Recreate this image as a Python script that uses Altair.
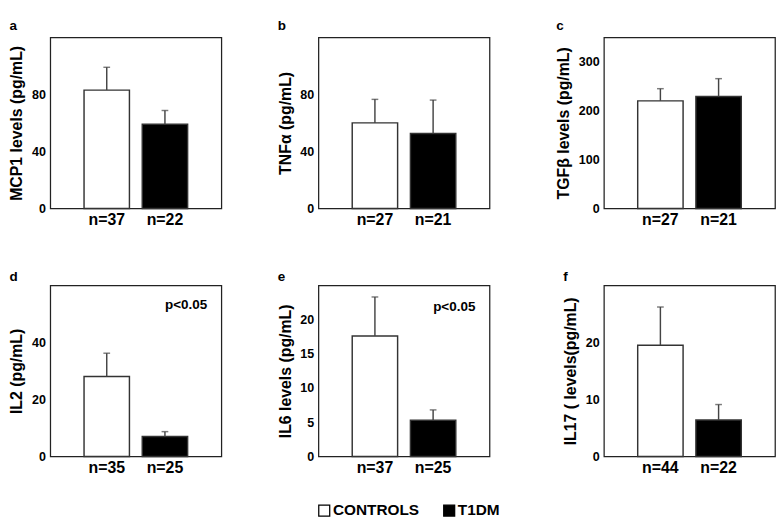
import altair as alt
import pandas as pd

letters = ["a", "b", "c", "d", "e", "f"]
y_titles = ["MCP1 levels (pg/mL)", "TNFα (pg/mL)", "TGFβ levels (pg/mL)",
            "IL2 (pg/mL)", "IL6 levels (pg/mL)", "IL17 ( levels(pg/mL)"]
groups = ["CONTROLS", "T1DM"]
control_mean = [83, 60, 220, 28, 17.6, 19.5]
control_upper = [99, 76.5, 245, 36.2, 23.3, 26.2]
t1dm_mean = [59, 52.5, 229, 7, 5.3, 6.4]
t1dm_upper = [68.7, 76, 265.5, 8.7, 6.8, 9.1]
n_control = [37, 27, 27, 35, 37, 44]
n_t1dm = [22, 21, 21, 25, 25, 22]
y_max = [120, 120, 350, 60, 25, 30]
y_ticks = [[0, 40, 80], [0, 40, 80], [0, 100, 200, 300],
           [0, 20, 40], [0, 5, 10, 15, 20], [0, 10, 20]]
p_text = ["", "", "", "p<0.05", "p<0.05", ""]
p_y = [0, 0, 0, 53, 21.8, 0]

FONT = "Liberation Sans"
W = 178
H = 178


def panel(i):
    labels = [f"n={n_control[i]}", f"n={n_t1dm[i]}"]
    df = pd.DataFrame({
        "label": labels,
        "group": groups,
        "mean": [control_mean[i], t1dm_mean[i]],
        "upper": [control_upper[i], t1dm_upper[i]],
    })
    xs = alt.X("label:N", sort=labels,
               scale=alt.Scale(paddingInner=0.22, paddingOuter=0.58),
               axis=alt.Axis(title=None, labelAngle=0, ticks=False, domain=False,
                             labelFontSize=16.5, labelFontWeight="bold",
                             labelPadding=4, labelColor="#000", labelFont=FONT))
    yaxis = alt.Axis(title=y_titles[i], values=y_ticks[i], grid=False, ticks=False,
                     domain=False, labelFontSize=13, labelFontWeight="bold",
                     labelColor="#000", labelFont=FONT, labelPadding=5,
                     titleFontSize=16.5, titleFontWeight="bold", titleColor="#000",
                     titleFont=FONT, titlePadding=7)
    yscale = alt.Scale(domain=[0, y_max[i]], nice=False, zero=True)

    if i == 4:
        leg = alt.Legend(orient="none", legendX=-2, legendY=226, direction="horizontal",
                         title=None, symbolType="square", symbolSize=130,
                         symbolStrokeColor="#000", symbolStrokeWidth=1.3,
                         labelFontSize=16, labelFontWeight="bold", labelFont=FONT,
                         labelColor="#000", labelOffset=1, columnPadding=22)
    else:
        leg = None

    bars = alt.Chart(df).mark_bar(stroke="#333", strokeWidth=1.5).encode(
        x=xs,
        y=alt.Y("mean:Q", scale=yscale, axis=yaxis),
        fill=alt.Fill("group:N", scale=alt.Scale(domain=groups, range=["#ffffff", "#000000"]),
                      legend=leg),
    )
    rule = alt.Chart(df).mark_rule(color="#444", strokeWidth=1.5).encode(
        x=alt.X("label:N", sort=labels),
        y=alt.Y("mean:Q", scale=yscale, axis=yaxis),
        y2="upper:Q",
    )
    cap = alt.Chart(df).mark_tick(color="#444", size=7, thickness=1.5,
                                  orient="horizontal").encode(
        x=alt.X("label:N", sort=labels),
        y=alt.Y("upper:Q", scale=yscale, axis=yaxis),
    )
    layers = [bars, rule, cap]
    if p_text[i]:
        pdf = pd.DataFrame({"label": [labels[1]], "y": [p_y[i]], "t": [p_text[i]]})
        txt = alt.Chart(pdf).mark_text(font=FONT, fontSize=14, fontWeight="bold",
                                       color="#000", dx=22).encode(
            x=alt.X("label:N", sort=labels),
            y=alt.Y("y:Q", scale=yscale, axis=yaxis),
            text="t:N",
        )
        layers.append(txt)
    offset = 5 if i < 3 else 1
    return alt.layer(*layers).properties(
        width=W, height=H,
        title=alt.TitleParams(text=letters[i], anchor="start", fontSize=14,
                              fontWeight="bold", font=FONT, color="#000", offset=offset),
    )


charts = [panel(i) for i in range(6)]
chart = alt.concat(*charts, columns=3, spacing={"row": 42, "column": 56}).resolve_scale(
    x="independent", y="independent", fill="independent"
).resolve_legend(fill="independent").properties(padding=0).configure_view(
    stroke="#222", strokeWidth=1.3
)

chart.save("out.html", embed_options={"renderer": "svg", "actions": False})
